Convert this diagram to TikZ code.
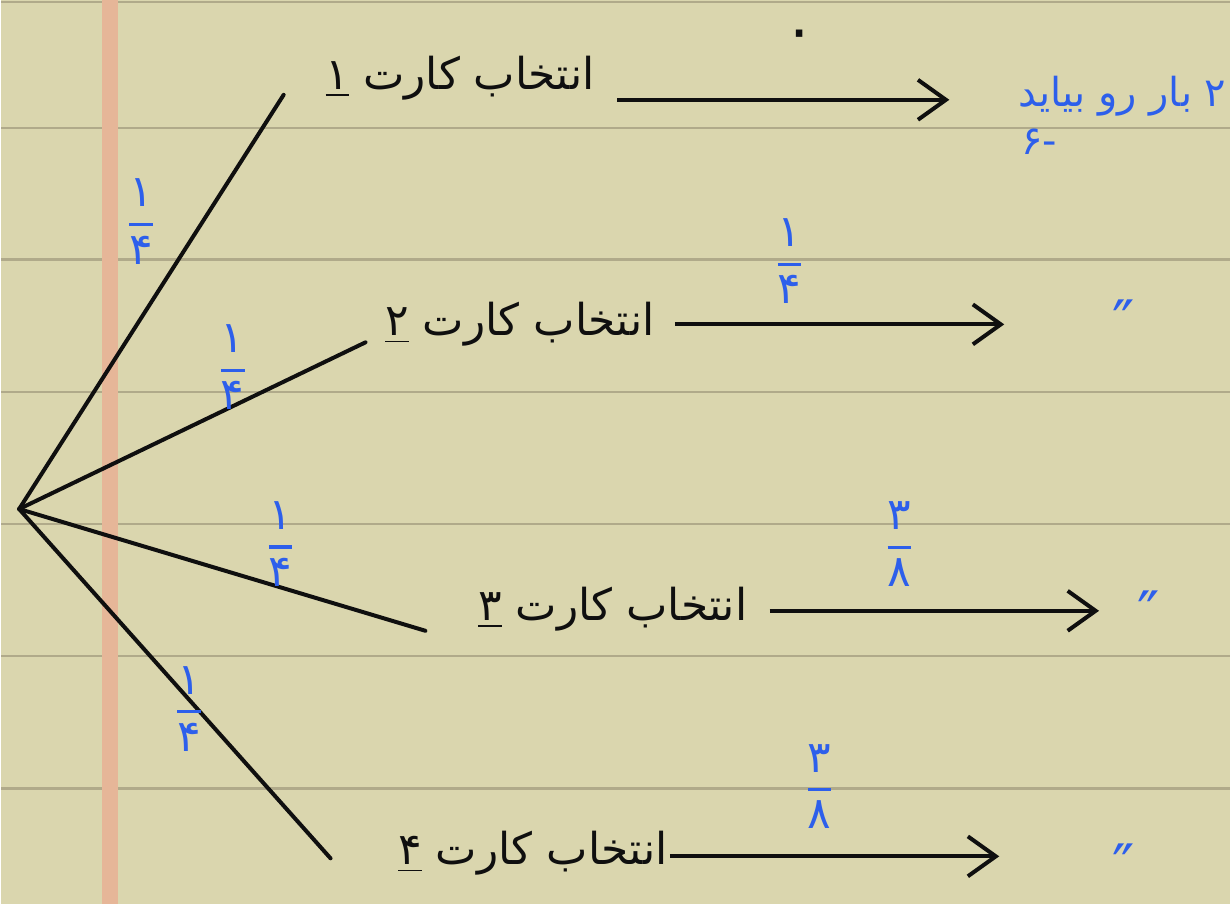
\documentclass[tikz,border=0pt]{standalone}
\usepackage{amsmath}
\usepackage{fontspec}
\usetikzlibrary{arrows.meta}
\newfontfamily\arabicfont[Script=Arabic]{DejaVu Sans}
\newfontfamily\symfont{DejaVu Sans}
\TeXXeTstate=1
\definecolor{paper}{RGB}{218,214,174}
\definecolor{ruleline}{RGB}{176,170,138}
\definecolor{marginred}{RGB}{230,182,152}
\definecolor{ink}{RGB}{15,15,15}
\definecolor{bink}{RGB}{45,95,235}
\newcommand\pfrac[2]{$\genfrac{}{}{1.6pt}{0}{\mbox{#1}}{\mbox{#2}}$}
\begin{document}
\begin{tikzpicture}[x=0.5pt,y=-0.5pt,
  branch/.style={line width=2pt, draw=ink, line cap=round},
  arr/.style={line width=2pt, draw=ink, -{Straight Barb[length=14pt,width=20pt,line width=2pt]}},
  lab/.style={font=\arabicfont\fontsize{22}{26}\selectfont, text=ink, inner sep=0pt},
  prob/.style={font=\arabicfont\fontsize{22}{26}\selectfont, text=bink, inner sep=0pt},
  res/.style={font=\arabicfont\fontsize{20}{24}\selectfont, text=bink, inner sep=0pt},
  ditto/.style={font=\symfont\fontsize{30}{34}\selectfont, text=bink, inner sep=0pt}]
  % paper
  \fill[paper] (0,0) rectangle (1231,906);
  \foreach \yy in {2,128,260,393,525,657,790}
    \draw[ruleline, line width=1.2pt] (0,\yy) -- (1231,\yy);
  \fill[marginred] (101,0) rectangle (117,906);
  \useasboundingbox (0,0) rectangle (1231,906);

  % root and branches
  \coordinate (root) at (18,510);
  \coordinate (e1) at (283,95);
  \coordinate (e2) at (365,343);
  \coordinate (e3) at (425,632);
  \coordinate (e4) at (330,860);
  \draw[branch] (root) -- (e1);
  \draw[branch] (root) -- (e2);
  \draw[branch] (root) -- (e3);
  \draw[branch] (root) -- (e4);

  % branch probabilities
  \node[prob] (p1) at (140,222) {\pfrac{۱}{۴}};
  \node[prob] (p2) at (232,368) {\pfrac{۱}{۴}};
  \node[prob] (p3) at (280,545) {\pfrac{۱}{۴}};
  \node[prob] (p4) at (188,710) {\pfrac{۱}{۴}};

  % labels
  \node[lab, anchor=east] (l1) at (595,78) {\beginR انتخاب کارت \underline{۱}\endR};
  \node[lab, anchor=east] (l2) at (655,325) {\beginR انتخاب کارت \underline{۲}\endR};
  \node[lab, anchor=east] (l3) at (748,610) {\beginR انتخاب کارت \underline{۳}\endR};
  \node[lab, anchor=east] (l4) at (668,855) {\beginR انتخاب کارت \underline{۴}\endR};

  % arrows
  \coordinate (a1s) at (617,100); \coordinate (a1e) at (950,100);
  \coordinate (a2s) at (675,325); \coordinate (a2e) at (1005,325);
  \coordinate (a3s) at (770,612); \coordinate (a3e) at (1100,612);
  \coordinate (a4s) at (670,858); \coordinate (a4e) at (1000,858);
  \draw[arr] (a1s) -- (a1e);
  \draw[arr] (a2s) -- (a2e);
  \draw[arr] (a3s) -- (a3e);
  \draw[arr] (a4s) -- (a4e);

  % arrow probabilities
  \node[lab, font=\arabicfont\fontsize{30}{34}\selectfont] (q1) at (800,40) {۰};
  \node[prob] (q2) at (790,262) {\pfrac{۱}{۴}};
  \node[prob] (q3) at (900,545) {\pfrac{۳}{۸}};
  \node[prob] (q4) at (820,788) {\pfrac{۳}{۸}};

  % results
  \node[res, anchor=east] (r1) at (1228,96) {\beginR ۲ بار رو بیاید\endR};
  \node[res] (r1b) at (1040,142) {\beginR -۶\endR};
  \node[ditto] (r2) at (1125,322) {″};
  \node[ditto] (r3) at (1150,614) {″};
  \node[ditto] (r4) at (1125,867) {″};
\end{tikzpicture}
\end{document}
